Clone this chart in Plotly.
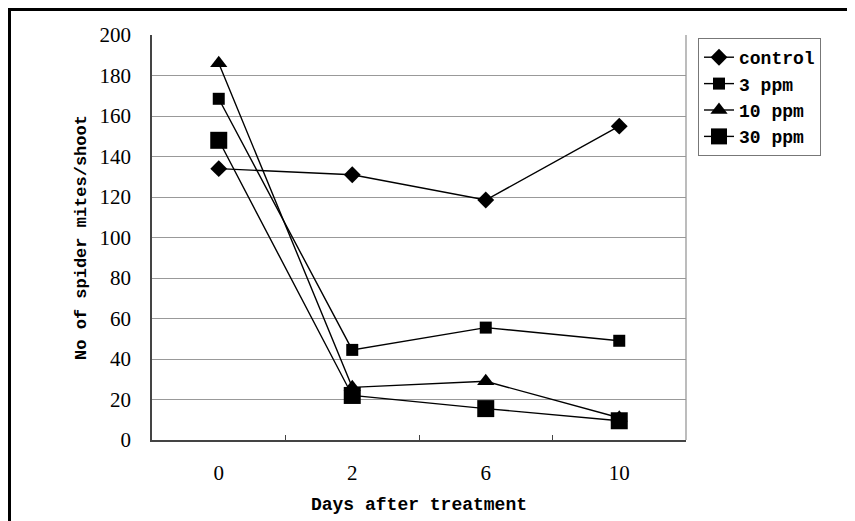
import plotly.graph_objects as go

days = ["0", "2", "6", "10"]
control = [134, 131, 118.5, 155]
ppm3 = [168.5, 44.5, 55.5, 49]
ppm10 = [186, 26, 29, 11]
ppm30 = [148, 22, 15.5, 9.5]
y_ticks = [0, 20, 40, 60, 80, 100, 120, 140, 160, 180, 200]

SERIF = "Liberation Serif"
MONO = "Liberation Mono"

fig = go.Figure()
series = [
    ("control", control, "diamond", 13),
    ("3 ppm", ppm3, "square", 12),
    ("10 ppm", ppm10, "triangle-up", 15),
    ("30 ppm", ppm30, "square", 17),
]
for name, vals, sym, size in series:
    fig.add_trace(go.Scatter(
        x=days, y=vals, name="<b>" + name + "</b>", mode="lines+markers",
        line=dict(color="black", width=1.4),
        marker=dict(symbol=sym, size=size, color="black"),
    ))

fig.update_layout(
    width=855, height=521,
    margin=dict(l=144, r=177, t=27, b=89, autoexpand=False),
    paper_bgcolor="white", plot_bgcolor="white",
    font=dict(family=SERIF, size=21, color="black"),
    showlegend=True,
    legend=dict(
        x=(698 - 152) / 534, y=1 - 3 / 405, xanchor="left", yanchor="top",
        bordercolor="#777777", borderwidth=1,
        font=dict(family=MONO, size=18, color="black"),
        tracegroupgap=0, itemwidth=30,
    ),
    xaxis=dict(
        type="category", range=[-0.5, 3.5], automargin=False,
        showgrid=False, showline=True, linecolor="#444444", linewidth=1.5,
        mirror=False, tickson="boundaries", ticks="inside", ticklen=5,
        tickcolor="#444444", ticklabelstandoff=13,
        tickfont=dict(family=SERIF, size=21),
        title=dict(text="<b>Days after treatment</b>", font=dict(family=MONO, size=18), standoff=13),
    ),
    yaxis=dict(
        range=[0, 200], tickvals=y_ticks, automargin=False,
        showgrid=True, gridcolor="#999999", gridwidth=1.3,
        showline=True, linecolor="#444444", linewidth=1.5,
        zeroline=False, ticks="", ticklabelstandoff=15,
        tickfont=dict(family=SERIF, size=21),
        title=dict(text="<b>No of spider mites/shoot</b>", font=dict(family=MONO, size=17), standoff=9),
    ),
    shapes=[
        dict(type="line", xref="paper", yref="paper", x0=1, x1=1, y0=0, y1=1,
             line=dict(color="#999999", width=1.3)),
        dict(type="rect", xref="paper", yref="paper",
             x0=(9.5 - 152) / 534, x1=(862 - 152) / 534,
             y0=(440 - 535) / 405, y1=1 + (35 - 9.5) / 405,
             line=dict(color="black", width=3)),
    ],
)

fig.write_html("out.html")
